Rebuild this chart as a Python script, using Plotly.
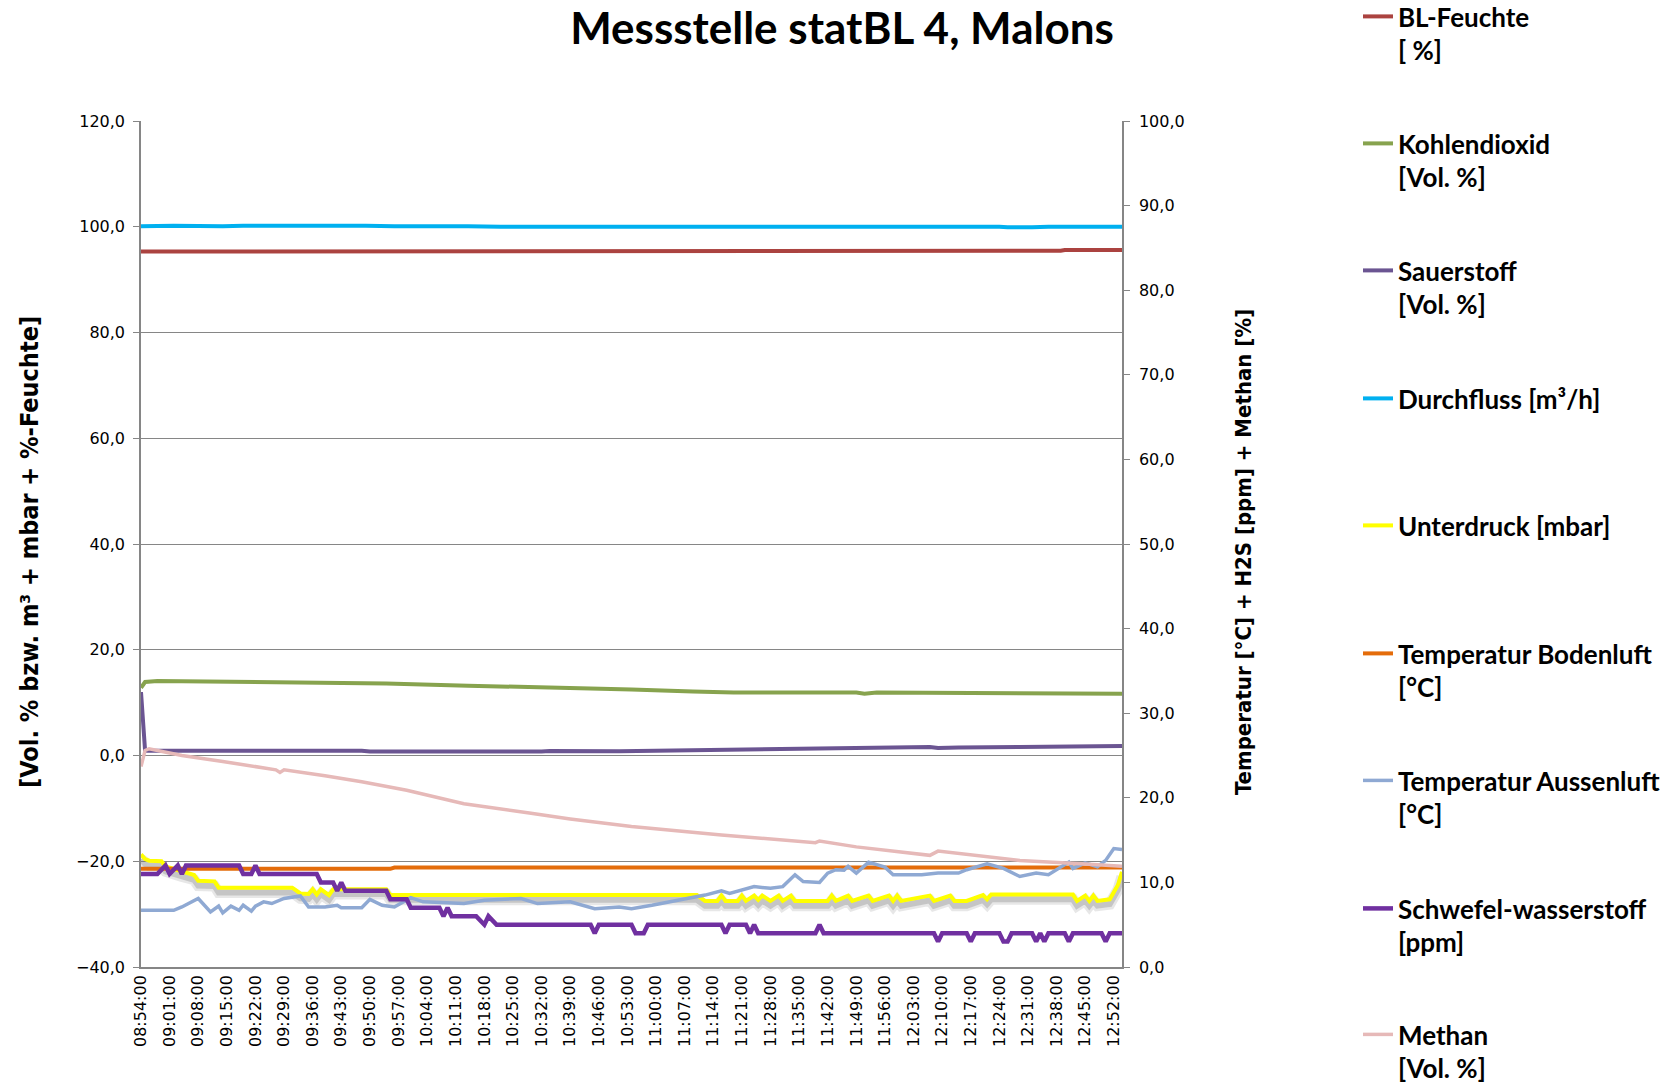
import plotly.graph_objects as go

DAY = "2023-01-01 "

tick_labels = ["08:54:00", "09:01:00", "09:08:00", "09:15:00", "09:22:00", "09:29:00", "09:36:00",
               "09:43:00", "09:50:00", "09:57:00", "10:04:00", "10:11:00", "10:18:00", "10:25:00",
               "10:32:00", "10:39:00", "10:46:00", "10:53:00", "11:00:00", "11:07:00", "11:14:00",
               "11:21:00", "11:28:00", "11:35:00", "11:42:00", "11:49:00", "11:56:00", "12:03:00",
               "12:10:00", "12:17:00", "12:24:00", "12:31:00", "12:38:00", "12:45:00", "12:52:00"]
x_start, x_end = "08:54", "12:54"

# ---- left axis series ----
feuchte_t = ["08:54", "10:50", "10:51", "12:39", "12:40", "12:54"]
feuchte_v = [95.3, 95.3, 95.45, 95.45, 95.6, 95.6]

co2_t = ["08:54", "08:55", "08:58", "09:14", "09:34", "09:54", "10:14", "10:34", "10:54", "11:09",
         "11:19", "11:49", "11:51", "11:54", "12:14", "12:54"]
co2_v = [12.8, 13.9, 14.1, 14.0, 13.8, 13.6, 13.2, 12.9, 12.5, 12.1, 11.9, 11.9, 11.7, 11.9, 11.8, 11.7]

o2_t = ["08:54", "08:55", "09:48", "09:50", "10:32", "10:34", "10:51", "11:14", "11:34", "11:49",
        "12:07", "12:09", "12:14", "12:29", "12:39", "12:54"]
o2_v = [12.0, 0.9, 0.9, 0.75, 0.75, 0.85, 0.8, 1.0, 1.2, 1.35, 1.6, 1.4, 1.5, 1.6, 1.7, 1.8]

flow_t = ["08:54", "09:02", "09:14", "09:19", "09:49", "09:56", "10:14", "10:22", "12:24", "12:26",
          "12:32", "12:36", "12:54"]
flow_v = [100.1, 100.2, 100.1, 100.2, 100.2, 100.1, 100.1, 100.0, 100.0, 99.9, 99.9, 100.0, 100.0]

press_t = ["08:54", "08:55", "08:56", "08:59", "09:00", "09:04", "09:07", "09:08", "09:12", "09:13",
           "09:31", "09:33", "09:35", "09:36", "09:37", "09:38", "09:40", "09:41", "09:54", "09:55",
           "11:10", "11:12", "11:15", "11:16", "11:17", "11:20", "11:21", "11:22", "11:24", "11:25",
           "11:26", "11:28", "11:30", "11:31", "11:33", "11:34", "11:42", "11:43", "11:44", "11:47",
           "11:48", "11:52", "11:53", "11:57", "11:58", "11:59", "12:00", "12:07", "12:08", "12:12",
           "12:13", "12:16", "12:19", "12:20", "12:21", "12:22", "12:42", "12:43", "12:45", "12:46",
           "12:47", "12:48", "12:51", "12:53", "12:54"]
press_v = [-18.7, -19.6, -19.9, -20.0, -21.0, -22.0, -22.6, -23.7, -23.8, -25.0,
           -25.0, -26.1, -26.2, -25.3, -26.3, -25.3, -26.4, -25.3, -25.3, -26.4,
           -26.4, -27.5, -27.5, -26.5, -27.5, -27.5, -26.5, -27.5, -26.5, -27.3,
           -26.5, -27.5, -26.5, -27.5, -26.5, -27.5, -27.5, -26.5, -27.5, -26.5,
           -27.5, -26.5, -27.5, -26.5, -27.5, -26.5, -27.5, -26.5, -27.5, -26.5,
           -27.5, -27.5, -26.6, -26.4, -27.2, -26.3, -26.3, -27.5, -26.5, -27.5,
           -26.5, -27.5, -27.2, -24.5, -22.0]

# ---- right axis series ----
tboden_t = ["08:54", "09:55", "09:56", "12:54"]
tboden_v = [11.6, 11.6, 11.75, 11.75]

taussen_t = ["08:54", "09:02", "09:04", "09:08", "09:11", "09:13", "09:14", "09:16", "09:18", "09:19",
             "09:21", "09:22", "09:24", "09:26", "09:29", "09:31", "09:33", "09:35", "09:39", "09:42",
             "09:43", "09:48", "09:50", "09:53", "09:56", "10:00", "10:03", "10:13", "10:18", "10:27",
             "10:31", "10:39", "10:45", "10:51", "10:54", "10:59", "11:06", "11:12", "11:16", "11:18",
             "11:24", "11:28", "11:31", "11:34", "11:36", "11:40", "11:42", "11:44", "11:46", "11:47",
             "11:49", "11:52", "11:56", "11:58", "12:05", "12:09", "12:14", "12:16", "12:21", "12:25",
             "12:29", "12:33", "12:36", "12:39", "12:41", "12:42", "12:45", "12:48", "12:50", "12:52",
             "12:54"]
taussen_v = [6.7, 6.7, 7.1, 8.1, 6.5, 7.2, 6.4, 7.2, 6.7, 7.3,
             6.6, 7.2, 7.7, 7.5, 8.1, 8.3, 8.4, 7.1, 7.1, 7.3,
             7.0, 7.0, 8.0, 7.3, 7.1, 8.2, 7.7, 7.5, 7.9, 8.1,
             7.5, 7.7, 6.9, 7.1, 6.9, 7.3, 7.9, 8.5, 9.0, 8.7,
             9.5, 9.3, 9.5, 10.9, 10.1, 10.0, 11.1, 11.5, 11.45, 11.9,
             11.1, 12.4, 11.8, 10.9, 10.9, 11.1, 11.1, 11.5, 12.2, 11.65,
             10.7, 11.1, 10.9, 11.85, 12.4, 11.65, 12.3, 11.85, 12.6, 14.0,
             13.9]

h2s_t = ["08:54", "08:58", "09:00", "09:01", "09:03", "09:04", "09:05", "09:18", "09:19", "09:21",
         "09:22", "09:23", "09:37", "09:38", "09:41", "09:42", "09:43", "09:44", "09:54", "09:55",
         "09:59", "10:00", "10:07", "10:08", "10:09", "10:10", "10:16", "10:18", "10:19", "10:21",
         "10:44", "10:45", "10:46", "10:54", "10:55", "10:57", "10:58", "11:16", "11:17", "11:18",
         "11:22", "11:23", "11:24", "11:25", "11:39", "11:40", "11:41", "12:08", "12:09", "12:10",
         "12:16", "12:17", "12:18", "12:24", "12:25", "12:26", "12:27", "12:32", "12:33", "12:34",
         "12:35", "12:36", "12:40", "12:41", "12:42", "12:49", "12:50", "12:51", "12:54"]
h2s_v = [11, 11, 12, 11, 12, 11, 12, 12, 11, 11,
         12, 11, 11, 10, 10, 9, 10, 9, 9, 8,
         8, 7, 7, 6, 7, 6, 6, 5, 6, 5,
         5, 4, 5, 5, 4, 4, 5, 5, 4, 5,
         5, 4, 5, 4, 4, 5, 4, 4, 3, 4,
         4, 3, 4, 4, 3, 3, 4, 4, 3, 4,
         3, 4, 4, 3, 4, 4, 3, 4, 4]

ch4_t = ["08:54", "08:55", "08:56", "08:59", "09:04", "09:14", "09:24", "09:27", "09:28", "09:29",
         "09:39", "09:48", "09:59", "10:13", "10:29", "10:39", "10:54", "11:16", "11:39", "11:40",
         "11:49", "11:59", "12:07", "12:09", "12:19", "12:29", "12:44", "12:54"]
ch4_v = [23.7, 25.6, 25.8, 25.5, 25.0, 24.3, 23.6, 23.3, 23.0, 23.3,
         22.6, 21.9, 20.9, 19.3, 18.2, 17.5, 16.6, 15.6, 14.7, 14.9,
         14.2, 13.7, 13.2, 13.7, 13.1, 12.6, 12.2, 11.9]

title_text = "Messstelle statBL 4, Malons"
y_left_title = "[Vol. % bzw. m³ + mbar + %-Feuchte]"
y_right_title = "Temperatur [°C] + H2S [ppm] + Methan [%]"


def ts(lst):
    return [DAY + t for t in lst]


W, H = 1680, 1088
# plot-area box in figure pixels
PL, PR, PT, PB = 141, 1122, 121, 967

LEG_FONT = dict(family="Lato, Open Sans, sans-serif", size=26, color="black", weight="bold")
SHADOW_OFFSET = 0.9

series = [
    ("BL-Feuchte<br>[ %]", feuchte_t, feuchte_v, "#AB4340", 4.0, "y"),
    ("Kohlendioxid<br>[Vol. %]", co2_t, co2_v, "#87A34E", 4.0, "y"),
    ("Sauerstoff<br>[Vol. %]", o2_t, o2_v, "#6B5592", 4.0, "y"),
    ("Durchfluss [m³/h]", flow_t, flow_v, "#00B0F0", 4.0, "y"),
    ("Unterdruck [mbar]", press_t, press_v, "#FFFF00", 4.0, "y"),
    ("Temperatur Bodenluft<br>[°C]", tboden_t, tboden_v, "#E46C0A", 4.0, "y2"),
    ("Temperatur Aussenluft<br>[°C]", taussen_t, taussen_v, "#8FA9D3", 3.5, "y2"),
    ("Schwefel-wasserstoff<br>[ppm]", h2s_t, h2s_v, "#7030A0", 4.5, "y2"),
    ("Methan<br>[Vol. %]", ch4_t, ch4_v, "#E6B9B8", 3.5, "y2"),
]

# first-line centres of legend entries (figure px)
legend_centers = [18, 145, 272, 400, 527, 655, 782, 910, 1036]
LEG_X = 1358
LEG_TOP_OFFSET = 25

fig = go.Figure()
layout_legends = {}
for i, (name, t, v, col, w, ax) in enumerate(series):
    lg = "legend" if i == 0 else f"legend{i + 1}"
    if name.startswith("Unterdruck"):
        fig.add_trace(go.Scatter(x=ts(t), y=[val - SHADOW_OFFSET for val in v], yaxis=ax, mode="lines",
                                 line=dict(color="rgba(120,120,120,0.18)", width=11),
                                 showlegend=False, hoverinfo="skip"))
        fig.add_trace(go.Scatter(x=ts(t), y=[val - SHADOW_OFFSET for val in v], yaxis=ax, mode="lines",
                                 line=dict(color="rgba(120,120,120,0.30)", width=6),
                                 showlegend=False, hoverinfo="skip"))
    fig.add_trace(go.Scatter(x=ts(t), y=v, name=name, yaxis=ax, mode="lines",
                             line=dict(color=col, width=w), legend=lg))
    top = legend_centers[i] - LEG_TOP_OFFSET
    layout_legends[lg] = dict(
        xref="paper", yref="paper",
        x=(LEG_X - PL) / (PR - PL),
        y=(PB - top) / (PB - PT), xanchor="left", yanchor="top",
        font=LEG_FONT, bgcolor="rgba(0,0,0,0)", valign="top", borderwidth=0,
    )

TICK_FONT = dict(family="DejaVu Sans, Verdana, sans-serif", size=16, color="black")
AX_FAMILY = "Liberation Sans Narrow, DejaVu Sans Condensed, Open Sans, sans-serif"
GRAY = "#868686"

fig.update_layout(
    width=W, height=H,
    paper_bgcolor="white", plot_bgcolor="white",
    separators=",.",
    margin=dict(l=PL, r=W - PR, t=PT, b=H - PB, autoexpand=False),
    title=dict(text=title_text, x=842 / W, xref="container", xanchor="center",
               y=1 - 29 / H, yref="container", yanchor="middle",
               font=dict(family="Lato, Open Sans, sans-serif", size=44, color="black", weight="bold")),
    xaxis=dict(type="date", range=[DAY + x_start, DAY + x_end],
               tickvals=ts(tick_labels), ticktext=tick_labels, tickangle=-90,
               tickfont=TICK_FONT, showgrid=False, showline=True, linecolor=GRAY, linewidth=1.5,
               ticks="", zeroline=False),
    yaxis=dict(range=[-40, 120], dtick=20, tick0=0, tickformat=".1f", tickfont=TICK_FONT,
               showgrid=True, gridcolor=GRAY, gridwidth=1, showline=True, linecolor=GRAY,
               linewidth=1.5, ticks="outside", ticklen=6, tickcolor=GRAY, zeroline=False,
               ticklabelstandoff=5),
    yaxis2=dict(range=[0, 100], dtick=10, tick0=0, tickformat=".1f", tickfont=TICK_FONT,
                overlaying="y", side="right", showgrid=False, showline=True, linecolor=GRAY,
                linewidth=1.5, ticks="outside", ticklen=6, tickcolor=GRAY, zeroline=False,
                ticklabelstandoff=6),
    annotations=[
        dict(text=y_left_title, textangle=-90, xref="paper", yref="paper",
             x=(29 - PL) / (PR - PL), y=(PB - 552) / (PB - PT), xanchor="center", yanchor="middle",
             showarrow=False,
             font=dict(family=AX_FAMILY, size=25, color="black", weight="bold")),
        dict(text=y_right_title, textangle=-90, xref="paper", yref="paper",
             x=(1243 - PL) / (PR - PL), y=(PB - 552) / (PB - PT), xanchor="center", yanchor="middle",
             showarrow=False,
             font=dict(family=AX_FAMILY, size=22, color="black", weight="bold")),
    ],
    **layout_legends,
)

fig.write_html("out.html", config={"displayModeBar": False},
               post_script="document.body.style.margin='0';")
